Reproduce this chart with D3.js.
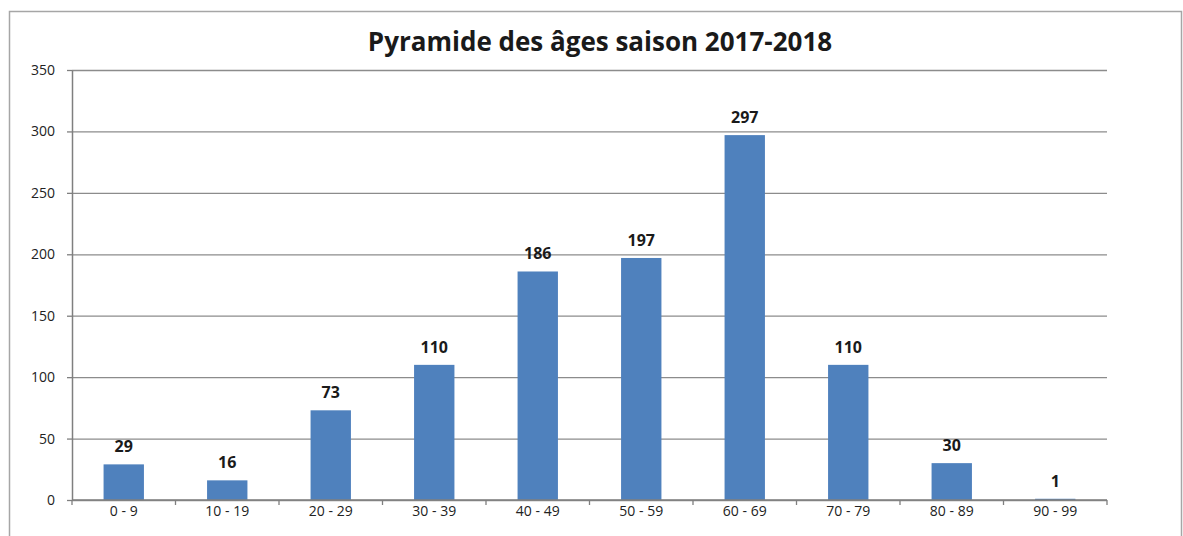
<!DOCTYPE html>
<html>
<head>
<meta charset="utf-8">
<script src="https://cdn.jsdelivr.net/npm/d3@7"></script>
<style>
  html, body { margin: 0; padding: 0; background: #fff; }
  svg { display: block; font-family: "Open Sans", "Liberation Sans", sans-serif; }
</style>
</head>
<body>
<div id="chart"></div>
<script>
const title = 'Pyramide des âges saison 2017-2018';
const categories = ['0 - 9', '10 - 19', '20 - 29', '30 - 39', '40 - 49', '50 - 59', '60 - 69', '70 - 79', '80 - 89', '90 - 99'];
const values = [29, 16, 73, 110, 186, 197, 297, 110, 30, 1];
const yTicks = [0, 50, 100, 150, 200, 250, 300, 350];

const width = 1183, height = 536;
const margin = { top: 70, right: 76, bottom: 36, left: 72 };
const innerWidth = width - margin.left - margin.right;
const innerHeight = height - margin.top - margin.bottom;

const svg = d3.select('#chart')
  .append('svg')
  .attr('width', width)
  .attr('height', height);

// Outer frame (bottom edge is outside the picture)
svg.append('path')
  .attr('d', `M9.5,${height}V11.5H${width - 1.5}V${height}`)
  .attr('fill', 'none')
  .attr('stroke', '#a6a6a6')
  .attr('stroke-width', 1.5);

svg.append('text')
  .attr('x', 600)
  .attr('y', 51)
  .attr('text-anchor', 'middle')
  .attr('font-size', 26)
  .attr('font-weight', 'bold')
  .attr('fill', '#1a1a1a')
  .text(title);

const g = svg.append('g')
  .attr('transform', `translate(${margin.left},${margin.top})`);

const x = d3.scaleBand()
  .domain(categories)
  .range([0, innerWidth])
  .paddingInner(0.61)
  .paddingOuter(0.305);

const xEdges = d3.scaleLinear()
  .domain([0, categories.length])
  .range([0, innerWidth]);

const y = d3.scaleLinear()
  .domain([0, 350])
  .range([innerHeight, 0]);

// Grid lines
g.append('g')
  .call(d3.axisLeft(y).tickValues(yTicks).tickSize(-innerWidth).tickFormat(() => ''))
  .call(s => s.select('.domain').remove())
  .selectAll('line')
  .attr('stroke', '#8c8c8c')
  .attr('stroke-width', 1.3);

// Y axis
const yAxis = g.append('g')
  .attr('font-size', 14)
  .call(d3.axisLeft(y).tickValues(yTicks).tickSize(5).tickPadding(12).tickSizeOuter(0));
yAxis.attr('font-size', 14).attr('font-family', '"Open Sans", "Liberation Sans", sans-serif');
yAxis.select('.domain').attr('stroke', '#7f7f7f').attr('stroke-width', 1.5);
yAxis.selectAll('line').attr('stroke', '#7f7f7f').attr('stroke-width', 1.3);
yAxis.selectAll('text').attr('fill', '#222');

// Bars
g.selectAll('.bar')
  .data(values)
  .enter()
  .append('rect')
  .attr('class', 'bar')
  .attr('x', (d, i) => x(categories[i]))
  .attr('y', d => y(d))
  .attr('width', x.bandwidth())
  .attr('height', d => innerHeight - y(d))
  .attr('fill', '#4f81bd');

// X axis
const xAxis = g.append('g')
  .attr('transform', `translate(0,${innerHeight})`);
xAxis.append('line')
  .attr('x1', 0)
  .attr('x2', innerWidth)
  .attr('stroke', '#7f7f7f')
  .attr('stroke-width', 1.5);
xAxis.selectAll('.edge')
  .data(d3.range(categories.length + 1))
  .enter()
  .append('line')
  .attr('class', 'edge')
  .attr('x1', d => xEdges(d))
  .attr('x2', d => xEdges(d))
  .attr('y1', 0)
  .attr('y2', 5)
  .attr('stroke', '#7f7f7f')
  .attr('stroke-width', 1.3);
xAxis.selectAll('.xlabel')
  .data(categories)
  .enter()
  .append('text')
  .attr('class', 'xlabel')
  .attr('x', d => x(d) + x.bandwidth() / 2)
  .attr('y', 16)
  .attr('text-anchor', 'middle')
  .attr('font-size', 14)
  .attr('fill', '#222')
  .text(d => d);

// Value labels
g.selectAll('.label')
  .data(values)
  .enter()
  .append('text')
  .attr('class', 'label')
  .attr('x', (d, i) => x(categories[i]) + x.bandwidth() / 2)
  .attr('y', d => y(d) - 12)
  .attr('text-anchor', 'middle')
  .attr('font-size', 16)
  .attr('font-weight', 'bold')
  .attr('fill', '#1a1a1a')
  .text(d => d);
</script>
</body>
</html>
